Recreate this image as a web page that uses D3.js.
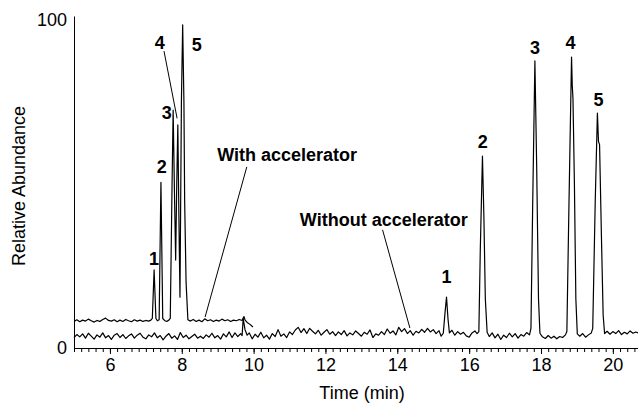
<!DOCTYPE html>
<html>
<head>
<meta charset="utf-8">
<script src="https://cdn.jsdelivr.net/npm/d3@7/dist/d3.min.js"></script>
<style>
    body { margin: 0; background: #fff; }
    svg text { font-family: "Liberation Sans", Arial, sans-serif; fill: #000; }
</style>
</head>
<body>
<script>
// chromatogram traces, [time (min), relative abundance]
const withoutAccelerator = [
    [5.00,3.2],[5.08,4.1],[5.16,3.4],[5.24,4.3],[5.32,3.0],[5.40,4.5],[5.48,3.6],[5.56,2.7],[5.64,4.0],[5.72,3.3],
    [5.80,4.6],[5.88,3.1],[5.96,3.8],[6.04,2.6],[6.12,3.9],[6.20,4.4],[6.28,3.2],[6.36,4.1],[6.44,2.9],[6.52,3.7],
    [6.60,4.3],[6.68,3.0],[6.76,3.9],[6.84,4.5],[6.92,3.3],[7.00,2.8],[7.08,4.0],[7.16,3.4],[7.24,4.6],[7.32,3.1],
    [7.40,3.8],[7.48,2.5],[7.56,3.6],[7.64,4.4],[7.72,3.0],[7.80,3.7],[7.88,2.6],[7.96,4.7],[8.04,3.2],[8.12,3.9],
    [8.20,2.8],[8.28,3.5],[8.36,4.2],[8.44,3.0],[8.52,3.6],[8.60,2.9],[8.68,4.0],[8.76,3.3],[8.84,4.5],[8.92,3.1],
    [9.00,3.8],[9.08,2.7],[9.16,4.3],[9.24,3.4],[9.32,4.9],[9.40,3.2],[9.48,4.6],[9.56,3.5],[9.64,4.4],[9.68,3.8],
    [9.71,9.0],[9.76,5.6],[9.82,3.9],[9.88,4.6],[9.96,2.8],[10.04,4.2],[10.12,3.3],[10.20,4.8],[10.28,3.1],[10.36,3.9],
    [10.44,2.7],[10.52,4.4],[10.60,3.5],[10.68,5.6],[10.76,3.6],[10.84,4.3],[10.92,3.2],[11.00,4.9],[11.08,4.1],[11.16,5.5],
    [11.24,6.3],[11.32,4.7],[11.40,5.9],[11.48,4.4],[11.56,6.0],[11.64,5.1],[11.72,4.3],[11.80,5.4],[11.88,3.9],[11.96,4.8],
    [12.04,5.6],[12.12,4.2],[12.20,5.0],[12.28,3.8],[12.36,4.9],[12.44,4.1],[12.52,5.3],[12.60,3.7],[12.68,4.6],[12.76,4.0],
    [12.84,5.2],[12.92,4.4],[13.00,3.6],[13.08,4.8],[13.16,4.2],[13.24,5.5],[13.32,3.2],[13.40,4.3],[13.48,3.9],[13.56,5.0],
    [13.64,4.1],[13.72,5.8],[13.80,4.5],[13.88,5.2],[13.96,4.0],[14.04,6.3],[14.12,5.0],[14.20,5.9],[14.28,4.4],[14.36,5.3],
    [14.44,3.9],[14.52,5.1],[14.60,4.6],[14.68,5.7],[14.76,4.8],[14.84,6.0],[14.92,4.9],[15.00,5.6],[15.08,4.4],[15.16,5.3],
    [15.22,3.6],[15.28,4.5],[15.33,11.0],[15.37,15.5],[15.41,9.0],[15.45,4.6],[15.52,5.4],[15.60,3.9],[15.68,5.0],[15.76,4.2],
    [15.84,4.8],[15.92,3.7],[16.00,3.3],[16.08,4.6],[16.16,5.2],[16.22,4.4],[16.27,5.0],[16.31,30.0],[16.37,58.5],[16.41,40.0],
    [16.45,15.0],[16.50,4.8],[16.56,3.5],[16.64,4.6],[16.72,3.1],[16.80,4.2],[16.88,2.6],[16.96,3.9],[17.04,3.2],[17.12,4.5],
    [17.20,3.4],[17.28,4.4],[17.36,3.0],[17.44,4.1],[17.52,3.6],[17.60,4.7],[17.68,4.0],[17.72,6.0],[17.77,45.0],[17.83,87.5],
    [17.88,55.0],[17.93,15.0],[17.97,4.5],[18.04,3.4],[18.12,2.9],[18.20,3.8],[18.28,3.0],[18.36,3.6],[18.44,2.8],[18.52,3.5],
    [18.60,3.2],[18.68,4.0],[18.72,5.0],[18.78,45.0],[18.85,88.7],[18.87,80.0],[18.89,76.0],[18.93,50.0],[18.97,15.0],[19.01,4.3],
    [19.08,3.6],[19.16,4.4],[19.24,3.3],[19.32,4.0],[19.40,4.6],[19.44,6.0],[19.51,45.0],[19.57,71.6],[19.60,63.0],[19.63,62.0],
    [19.68,35.0],[19.73,10.0],[19.77,4.4],[19.84,5.1],[19.92,4.2],[20.00,5.0],[20.08,4.4],[20.16,5.3],[20.24,4.1],[20.32,4.8],
    [20.40,4.3],[20.48,5.2],[20.56,4.5],[20.64,4.9],[20.70,4.6]
];

const withAccelerator = [
    [5.00,8.1],[5.08,8.6],[5.16,8.0],[5.24,8.5],[5.32,8.2],[5.40,8.8],[5.48,8.3],[5.56,7.9],[5.64,8.4],[5.72,8.1],
    [5.80,8.7],[5.88,9.1],[5.96,8.4],[6.04,8.2],[6.12,8.6],[6.20,8.0],[6.28,8.5],[6.36,8.1],[6.44,8.7],[6.52,8.3],
    [6.60,8.0],[6.68,8.6],[6.76,8.2],[6.84,8.5],[6.92,8.1],[7.00,8.4],[7.08,8.2],[7.14,8.5],[7.18,9.0],[7.23,23.8],
    [7.28,9.0],[7.32,8.3],[7.37,8.6],[7.42,50.5],[7.47,9.0],[7.52,8.4],[7.58,8.1],[7.64,8.5],[7.68,9.0],[7.73,50.0],
    [7.76,72.5],[7.80,45.0],[7.83,26.8],[7.86,50.0],[7.89,68.0],[7.92,40.0],[7.95,15.5],[7.99,75.0],[8.025,98.5],[8.06,75.0],
    [8.08,45.0],[8.12,20.0],[8.17,8.6],[8.24,8.2],[8.32,8.7],[8.40,8.1],[8.48,8.5],[8.56,8.0],[8.64,8.9],[8.72,8.3],
    [8.80,8.6],[8.88,8.1],[8.96,8.5],[9.04,8.2],[9.12,8.8],[9.20,8.3],[9.28,8.6],[9.36,8.1],[9.44,8.5],[9.52,8.3],
    [9.60,8.7],[9.68,8.4],[9.73,9.6],[9.76,8.6],[9.82,7.8],[9.90,7.2],[9.98,6.4]
];

// peak numbers: [label, time, abundance]
const withoutPeakLabels = [["1",15.37,19.8],["2",16.38,61.1],["3",17.83,89.6],["4",18.82,91.2],["5",19.60,73.8]];
const withPeakLabels = [["1",7.23,25.3],["2",7.44,53.4],["3",7.58,69.8],["4",7.39,91.2],["5",8.42,90.5]];

const xMajorTicks = [6, 8, 10, 12, 14, 16, 18, 20];
const yTicks = [0, 100];
const xTitle = "Time (min)";
const yTitle = "Relative Abundance";

const W = 638, H = 404;

const setAttributes = (el, attrs) => {
    Object.keys(attrs).forEach(key => el.attr(key.replace(/_/g, "-"), attrs[key]));
    return el;
};

const svg = d3.select("body").append("svg").attr("width", W).attr("height", H);

const x = d3.scaleLinear().domain([5, 20.7]).range([74, 638]);
const y = d3.scaleLinear().domain([0, 101.2]).range([348, 16]);

// minor ticks every 0.2 min, then labelled ones
const minorAxis = d3.axisBottom(x)
    .tickValues(d3.range(5, 20.65, 0.2))
    .tickSize(4).tickSizeOuter(0).tickFormat("");
const majorAxis = d3.axisBottom(x)
    .tickValues(xMajorTicks)
    .tickSize(6).tickSizeOuter(0).tickPadding(4);

svg.append("g").attr("transform", "translate(0," + y(0) + ")").call(minorAxis);
const gx = svg.append("g").attr("transform", "translate(0," + y(0) + ")").call(majorAxis);
svg.selectAll(".domain, .tick line").attr("stroke", "#000").attr("stroke-width", 1);
gx.selectAll("text").style("font-size", "18px").style("font-family", "\"Liberation Sans\", Arial, sans-serif");

const gy = svg.append("g").attr("transform", "translate(74,0)")
    .call(d3.axisLeft(y).tickValues(yTicks).tickSize(0).tickPadding(7));
gy.select(".domain").attr("stroke", "#000");
gy.selectAll("text").style("font-size", "18px").style("font-family", "\"Liberation Sans\", Arial, sans-serif");

setAttributes(svg.append("text").text(xTitle), {x: 362, y: 399, text_anchor: "middle", font_size: 18});
setAttributes(svg.append("text").text(yTitle),
    {transform: "translate(25,186) rotate(-90)", text_anchor: "middle", font_size: 18});

const line = d3.line().x(d => x(d[0])).y(d => y(d[1]));

[withoutAccelerator, withAccelerator].forEach(series => {
    setAttributes(svg.append("path").datum(series), {
        d: line, fill: "none", stroke: "#000", stroke_width: 1.2, stroke_linejoin: "round"
    });
});

[withoutPeakLabels, withPeakLabels].forEach(labels => {
    svg.append("g").selectAll("text").data(labels).join("text")
        .attr("x", d => x(d[1]))
        .attr("y", d => y(d[2]))
        .attr("text-anchor", "middle")
        .attr("font-size", 18)
        .attr("font-weight", "bold")
        .text(d => d[0]);
});

// callouts
const notes = [
    {text: "With accelerator", at: [12.88, 57.0], from: [9.81, 55.2], to: [8.65, 9.45]},
    {text: "Without accelerator", at: [15.96, 37.2], from: [13.59, 36.0], to: [14.35, 6.1]},
    {text: "", at: null, from: [7.505, 90.5], to: [7.87, 70.0]}
];
notes.forEach(n => {
    setAttributes(svg.append("line"), {
        x1: x(n.from[0]), y1: y(n.from[1]), x2: x(n.to[0]), y2: y(n.to[1]),
        stroke: "#000", stroke_width: 1
    });
    if (n.at) {
        setAttributes(svg.append("text").text(n.text), {
            x: x(n.at[0]), y: y(n.at[1]), text_anchor: "end", font_size: 18, font_weight: "bold"
        });
    }
});
</script>
</body>
</html>
